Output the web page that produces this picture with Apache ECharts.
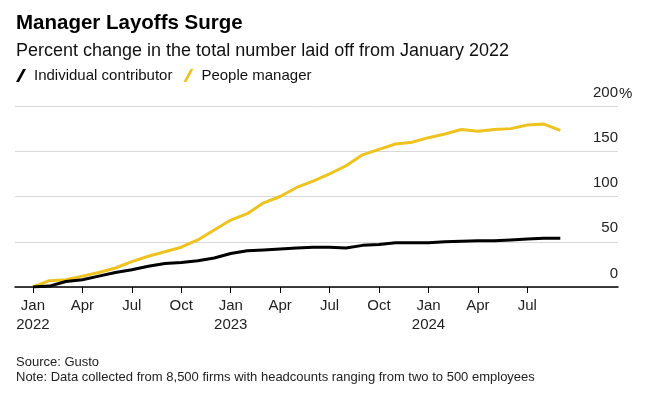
<!DOCTYPE html>
<html>
<head>
<meta charset="utf-8">
<script src="https://cdn.jsdelivr.net/npm/echarts@6/dist/echarts.min.js"></script>
<style>
  html, body { margin: 0; padding: 0; background: #fff; }
  #chart { width: 645px; height: 398px; }
</style>
</head>
<body>
<div id="chart"></div>
<script>
// monthly points, Jan 2022 .. Sep 2024
const months = [
  "2022-01", "2022-02", "2022-03", "2022-04", "2022-05", "2022-06",
  "2022-07", "2022-08", "2022-09", "2022-10", "2022-11", "2022-12",
  "2023-01", "2023-02", "2023-03", "2023-04", "2023-05", "2023-06",
  "2023-07", "2023-08", "2023-09", "2023-10", "2023-11", "2023-12",
  "2024-01", "2024-02", "2024-03", "2024-04", "2024-05", "2024-06",
  "2024-07", "2024-08", "2024-09"
];
const individualContributor = [
  0, 1, 6, 8, 12, 16, 19, 23, 26, 27, 29, 32,
  37, 40, 41, 42, 43, 44, 44, 43, 46, 47, 49, 49,
  49, 50, 50.5, 51, 51, 52, 53, 54, 54
];
const peopleManager = [
  0, 7, 8, 12, 16, 21, 28, 34, 39, 44, 52, 63,
  74, 81, 93, 100, 110, 117, 125, 134, 146, 152, 158, 160,
  165, 169, 174, 172, 174, 175, 179, 180, 173
];
const tickMonths = [0, 3, 6, 9, 12, 15, 18, 21, 24, 27, 30];
const tickLabels = ["Jan\n2022", "Apr", "Jul", "Oct", "Jan\n2023", "Apr", "Jul", "Oct", "Jan\n2024", "Apr", "Jul"];
const yTicks = [0, 50, 100, 150, 200];

const font = "'Liberation Sans', Arial, sans-serif";
const chart = echarts.init(document.getElementById("chart"));

const option = {
  animation: false,
  title: [
    { text: "Manager Layoffs Surge", left: 11, top: 8,
      textStyle: { fontFamily: font, fontSize: 20.5, fontWeight: "bold", color: "#000" } },
    { text: "Percent change in the total number laid off from January 2022", left: 11, top: 37,
      textStyle: { fontFamily: font, fontSize: 18, fontWeight: "normal", color: "#111" } },
    { text: "Source: Gusto", left: 11, top: 351,
      textStyle: { fontFamily: font, fontSize: 13, fontWeight: "normal", color: "#222" } },
    { text: "Note: Data collected from 8,500 firms with headcounts ranging from two to 500 employees", left: 11, top: 366,
      textStyle: { fontFamily: font, fontSize: 13, fontWeight: "normal", color: "#222" } }
  ],
  legend: {
    left: 11, top: 63,
    itemWidth: 10, itemHeight: 13, itemGap: 11,
    icon: "path://M0,13 L7,0 L10,0 L3,13 Z",
    textStyle: { fontFamily: font, fontSize: 15, color: "#111", padding: [0, 0, 0, 3] },
    data: ["Individual contributor", "People manager"]
  },
  grid: { left: 15, right: 27, top: 106, bottom: 111 },
  xAxis: {
    type: "value",
    min: -1.09,
    max: 35.5,
    splitLine: { show: false },
    axisLine: { lineStyle: { color: "#000", width: 1.5 } },
    axisTick: { customValues: tickMonths, length: 6, lineStyle: { color: "#000" } },
    axisLabel: {
      customValues: tickMonths,
      formatter: (v) => tickLabels[tickMonths.indexOf(v)],
      fontFamily: font, fontSize: 15, color: "#222",
      lineHeight: 19, margin: 9
    }
  },
  yAxis: {
    type: "value",
    position: "right",
    min: 0, max: 200, interval: 50,
    axisLine: { show: false },
    axisTick: { show: false },
    splitLine: { lineStyle: { color: "#d9d9d9", width: 1 } },
    axisLabel: {
      inside: true, margin: 0,
      align: "right", verticalAlign: "bottom",
      padding: [0, 0, 6, 0],
      fontFamily: font, fontSize: 15, color: "#222"
    }
  },
  graphic: [
    // the % sign hangs past the right edge of the "200" label
    { type: "text", left: 619, top: 86,
      style: { text: "%", font: "15px " + font, fill: "#222" } }
  ],
  series: [
    {
      name: "Individual contributor",
      type: "line",
      symbol: "none",
      color: "#000",
      lineStyle: { width: 3, color: "#000" },
      z: 3,
      data: months.map((m, i) => [i, individualContributor[i]])
    },
    {
      name: "People manager",
      type: "line",
      symbol: "none",
      color: "#eec21f",
      lineStyle: { width: 3, color: "#eec21f" },
      z: 2,
      data: months.map((m, i) => [i, peopleManager[i]])
    }
  ]
};

chart.setOption(option);
</script>
</body>
</html>
